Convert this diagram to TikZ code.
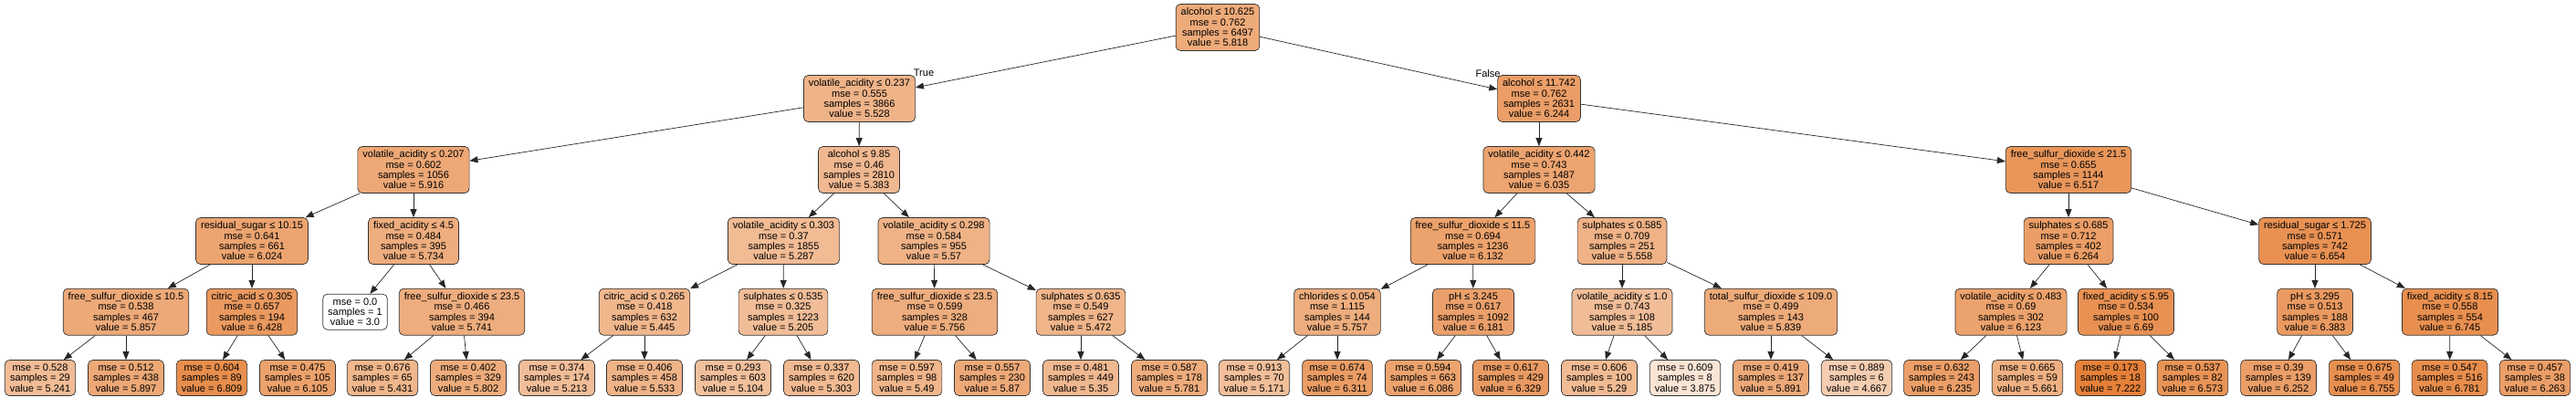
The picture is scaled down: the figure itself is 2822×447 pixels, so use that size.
\documentclass[tikz,border=0pt]{standalone}
\usepackage{fontspec}
\setmainfont{Liberation Sans}
\usetikzlibrary{arrows.meta}
\definecolor{ora}{HTML}{E58139}
\tikzset{
  base/.style={draw=black!80, line width=0.7pt, rounded corners=5pt, align=center,
    inner xsep=5.5pt, inner ysep=0pt, font=\fontsize{11}{11.33}\selectfont},
  split/.style={base, minimum height=51pt},
  leaf/.style={base, minimum height=39pt},
  tone/.code={\pgfmathtruncatemacro\tpct{round((#1-3)/4.222*100)}%
    \edef\tonetmp{\noexpand\pgfkeysalso{fill=ora!\tpct!white}}\tonetmp},
  conn/.style={-{Triangle[length=9pt,width=7pt]}, line width=0.7pt, draw=black!85},
  lbl/.style={font=\fontsize{11}{12}\selectfont, inner sep=0pt}
}
\newcommand\dnode[7]{\node[split,tone=#7] (#1) at (#2,#3) {#4\\mse = #5\\samples = #6\\value = #7};}
\newcommand\lnode[6]{\node[leaf,tone=#6] (#1) at (#2,#3) {mse = #4\\samples = #5\\value = #6};}
\begin{document}
\begin{tikzpicture}[x=1pt,y=-1pt]
\useasboundingbox (0,0) rectangle (2822,447);
% level 0
\dnode{r}{1334}{30}{alcohol ≤ 10.625}{0.762}{6497}{5.818}
% level 1
\dnode{a}{941.5}{108}{volatile\_acidity ≤ 0.237}{0.555}{3866}{5.528}
\dnode{b}{1686}{108}{alcohol ≤ 11.742}{0.762}{2631}{6.244}
% level 2
\dnode{aa}{453}{186}{volatile\_acidity ≤ 0.207}{0.602}{1056}{5.916}
\dnode{ab}{941}{186}{alcohol ≤ 9.85}{0.46}{2810}{5.383}
\dnode{ba}{1686}{186}{volatile\_acidity ≤ 0.442}{0.743}{1487}{6.035}
\dnode{bb}{2266}{186}{free\_sulfur\_dioxide ≤ 21.5}{0.655}{1144}{6.517}
% level 3
\dnode{aaa}{276}{264}{residual\_sugar ≤ 10.15}{0.641}{661}{6.024}
\dnode{aab}{453}{264}{fixed\_acidity ≤ 4.5}{0.484}{395}{5.734}
\dnode{aba}{858.5}{264}{volatile\_acidity ≤ 0.303}{0.37}{1855}{5.287}
\dnode{abb}{1023}{264}{volatile\_acidity ≤ 0.298}{0.584}{955}{5.57}
\dnode{baa}{1613.5}{264}{free\_sulfur\_dioxide ≤ 11.5}{0.694}{1236}{6.132}
\dnode{bab}{1777}{264}{sulphates ≤ 0.585}{0.709}{251}{5.558}
\dnode{bba}{2266}{264}{sulphates ≤ 0.685}{0.712}{402}{6.264}
\dnode{bbb}{2536}{264}{residual\_sugar ≤ 1.725}{0.571}{742}{6.654}
% level 4
\dnode{aaaa}{138}{341.7}{free\_sulfur\_dioxide ≤ 10.5}{0.538}{467}{5.857}
\dnode{aaab}{276}{341.7}{citric\_acid ≤ 0.305}{0.657}{194}{6.428}
\lnode{aaba}{389}{341.7}{0.0}{1}{3.0}
\dnode{aabb}{506}{341.7}{free\_sulfur\_dioxide ≤ 23.5}{0.466}{394}{5.741}
\dnode{abaa}{706}{341.7}{citric\_acid ≤ 0.265}{0.418}{632}{5.445}
\dnode{abab}{858}{341.7}{sulphates ≤ 0.535}{0.325}{1223}{5.205}
\dnode{abba}{1024}{341.7}{free\_sulfur\_dioxide ≤ 23.5}{0.599}{328}{5.756}
\dnode{abbb}{1184}{341.7}{sulphates ≤ 0.635}{0.549}{627}{5.472}
\dnode{baaa}{1465}{341.7}{chlorides ≤ 0.054}{1.115}{144}{5.757}
\dnode{baab}{1614}{341.7}{pH ≤ 3.245}{0.617}{1092}{6.181}
\dnode{baba}{1777}{341.7}{volatile\_acidity ≤ 1.0}{0.743}{108}{5.185}
\dnode{babb}{1940}{341.7}{total\_sulfur\_dioxide ≤ 109.0}{0.499}{143}{5.839}
\dnode{bbaa}{2203}{341.7}{volatile\_acidity ≤ 0.483}{0.69}{302}{6.123}
\dnode{bbab}{2329}{341.7}{fixed\_acidity ≤ 5.95}{0.534}{100}{6.69}
\dnode{bbba}{2536}{341.7}{pH ≤ 3.295}{0.513}{188}{6.383}
\dnode{bbbb}{2684}{341.7}{fixed\_acidity ≤ 8.15}{0.558}{554}{6.745}
% level 5 leaves
\lnode{aaaaa}{44}{414}{0.528}{29}{5.241}
\lnode{aaaab}{138}{414}{0.512}{438}{5.897}
\lnode{aaaba}{232}{414}{0.604}{89}{6.809}
\lnode{aaabb}{326}{414}{0.475}{105}{6.105}
\lnode{aabba}{419}{414}{0.676}{65}{5.431}
\lnode{aabbb}{513}{414}{0.402}{329}{5.802}
\lnode{abaaa}{610}{414}{0.374}{174}{5.213}
\lnode{abaab}{706}{414}{0.406}{458}{5.533}
\lnode{ababa}{803}{414}{0.293}{603}{5.104}
\lnode{ababb}{900}{414}{0.337}{620}{5.303}
\lnode{abbaa}{993.5}{414}{0.597}{98}{5.49}
\lnode{abbab}{1087}{414}{0.557}{230}{5.87}
\lnode{abbba}{1184}{414}{0.481}{449}{5.35}
\lnode{abbbb}{1281}{414}{0.587}{178}{5.781}
\lnode{baaaa}{1374}{414}{0.913}{70}{5.171}
\lnode{baaab}{1465}{414}{0.674}{74}{6.311}
\lnode{baaba}{1559}{414}{0.594}{663}{6.086}
\lnode{baabb}{1655}{414}{0.617}{429}{6.329}
\lnode{babaa}{1752}{414}{0.606}{100}{5.29}
\lnode{babab}{1846}{414}{0.609}{8}{3.875}
\lnode{babba}{1940}{414}{0.419}{137}{5.891}
\lnode{babbb}{2034}{414}{0.889}{6}{4.667}
\lnode{bbaaa}{2127}{414}{0.632}{243}{6.235}
\lnode{bbaab}{2221}{414}{0.665}{59}{5.661}
\lnode{bbaba}{2312}{414}{0.173}{18}{7.222}
\lnode{bbabb}{2402}{414}{0.537}{82}{6.573}
\lnode{bbbaa}{2496}{414}{0.39}{139}{6.252}
\lnode{bbbab}{2590}{414}{0.675}{49}{6.755}
\lnode{bbbba}{2683.5}{414}{0.547}{516}{6.781}
\lnode{bbbbb}{2777}{414}{0.457}{38}{6.263}
% edges
\foreach \p/\c in {r/a, r/b,
  a/aa, a/ab, b/ba, b/bb,
  aa/aaa, aa/aab, ab/aba, ab/abb, ba/baa, ba/bab, bb/bba, bb/bbb,
  aaa/aaaa, aaa/aaab, aab/aaba, aab/aabb, aba/abaa, aba/abab, abb/abba, abb/abbb,
  baa/baaa, baa/baab, bab/baba, bab/babb, bba/bbaa, bba/bbab, bbb/bbba, bbb/bbbb,
  aaaa/aaaaa, aaaa/aaaab, aaab/aaaba, aaab/aaabb, aabb/aabba, aabb/aabbb,
  abaa/abaaa, abaa/abaab, abab/ababa, abab/ababb, abba/abbaa, abba/abbab,
  abbb/abbba, abbb/abbbb, baaa/baaaa, baaa/baaab, baab/baaba, baab/baabb,
  baba/babaa, baba/babab, babb/babba, babb/babbb, bbaa/bbaaa, bbaa/bbaab,
  bbab/bbaba, bbab/bbabb, bbba/bbbaa, bbba/bbbab, bbbb/bbbba, bbbb/bbbbb}
  \draw[conn] (\p) -- (\c);
% edge labels
\node[lbl] (tl) at (1012,80) {True};
\node[lbl] (fl) at (1630,80.5) {False};
\end{tikzpicture}
\end{document}
